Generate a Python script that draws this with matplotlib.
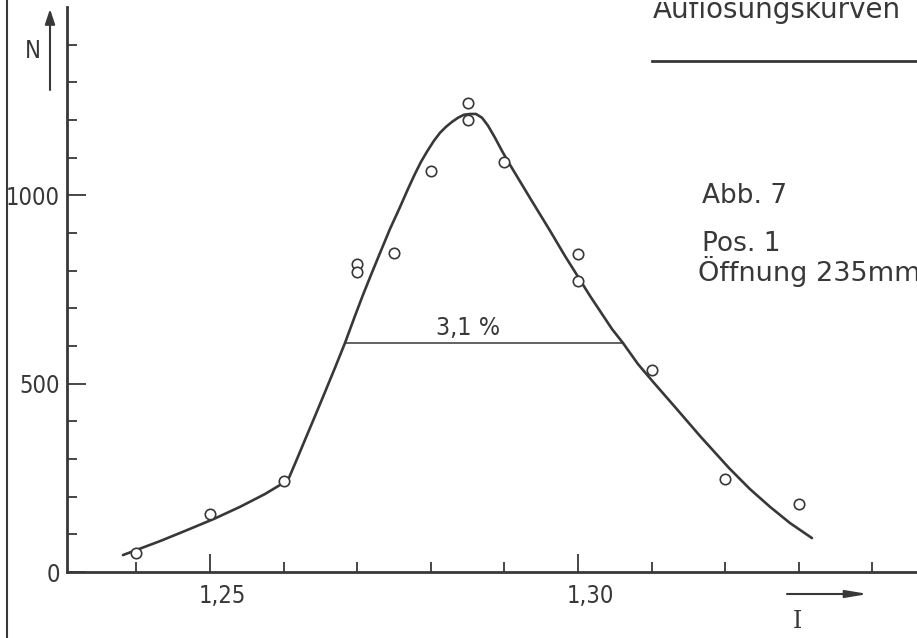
"""Auflösungskurve: counts N against current I, Pos. 1, Öffnung 235 mm."""

import matplotlib

matplotlib.use("Agg")
import matplotlib.pyplot as plt  # noqa: E402
from matplotlib.lines import Line2D  # noqa: E402
from matplotlib.ticker import FixedLocator  # noqa: E402
from matplotlib.transforms import Bbox, ScaledTranslation, TransformedBbox  # noqa: E402

INK = "#383838"

# measured counts
meas_i = [1.240, 1.250, 1.260, 1.270, 1.270, 1.275, 1.280, 1.285, 1.285,
          1.290, 1.300, 1.300, 1.310, 1.320, 1.330]
meas_n = [50, 154, 242, 818, 797, 847, 1065, 1244, 1200,
          1089, 845, 773, 537, 247, 181]

# hand-drawn fit curve through the measurements
fit_i = [1.23818, 1.24035, 1.24321, 1.24660, 1.25054, 1.25408, 1.25747,
         1.25951, 1.26073, 1.26182, 1.26291, 1.26427, 1.26563, 1.26698,
         1.26834, 1.26970, 1.27079, 1.27188, 1.27310, 1.27446, 1.27582,
         1.27690, 1.27785, 1.27867, 1.27948, 1.28043, 1.28125, 1.28207,
         1.28288, 1.28370, 1.28451, 1.28533, 1.28614, 1.28696, 1.28777,
         1.28872, 1.28967, 1.29076, 1.29348, 1.29620, 1.29823, 1.30000,
         1.30163, 1.30299, 1.30462, 1.30611, 1.30815, 1.31019, 1.31318,
         1.31658, 1.32052, 1.32337, 1.32609, 1.32880, 1.33179]
fit_n = [45, 61, 82, 109, 141, 173, 207,
         231, 250, 300, 351, 414, 478, 542,
         608, 680, 736, 789, 847, 911, 969,
         1017, 1057, 1089, 1116, 1145, 1166, 1182,
         1195, 1206, 1214, 1216, 1216, 1206, 1185,
         1153, 1118, 1081, 993, 906, 839, 784,
         733, 693, 645, 608, 552, 505, 438,
         361, 276, 220, 173, 130, 90]

# half-width marker
half_n = 608
half_i = [1.26834, 1.30611]
half_label = "3,1 %"

y_major = [0, 500, 1000]
y_minor = [100, 200, 300, 400, 600, 700, 800, 900, 1100, 1200, 1300, 1400]
x_major = [1.25, 1.30]
x_major_labels = ["1,25", "1,30"]
x_minor = [1.24, 1.26, 1.27, 1.28, 1.29, 1.31, 1.32, 1.33, 1.34]

W, H = 917, 638


def px(x, y):
    """Pixel position (from top-left) -> figure fraction."""
    return x / W, 1 - y / H


fig = plt.figure(figsize=(W / 100, H / 100), dpi=100)
fig.patch.set_facecolor("white")
ax = fig.add_axes([67 / W, (H - 572) / H, (W - 67) / W, 565 / H])
ax.set_facecolor("none")

ax.plot(fit_i, fit_n, color=INK, lw=1.9, solid_capstyle="round",
        solid_joinstyle="round", zorder=3)
ax.plot(meas_i, meas_n, ls="none", marker="o", ms=7.5, mfc="white",
        mec=INK, mew=1.2, zorder=4)
ax.plot(half_i, [half_n, half_n], color=INK, lw=1.1, zorder=2)
ax.text(1.2851, half_n + 40, half_label, ha="center", va="center",
        fontsize=18, color=INK, fontstretch="condensed")

ax.set_xlim(1.23057, 1.34606)
ax.set_ylim(0, 1500)

for side in ("top", "right"):
    ax.spines[side].set_visible(False)
for side in ("left", "bottom"):
    ax.spines[side].set_color(INK)
    ax.spines[side].set_linewidth(2.0)

ax.yaxis.set_major_locator(FixedLocator(y_major))
ax.yaxis.set_minor_locator(FixedLocator(y_minor))
ax.xaxis.set_major_locator(FixedLocator(x_major))
ax.xaxis.set_minor_locator(FixedLocator(x_minor))
ax.set_xticklabels(x_major_labels)
ax.set_yticklabels([str(v) for v in y_major])

ax.tick_params(which="both", direction="in", color=INK, width=1.3,
               labelcolor=INK)
ax.tick_params(axis="y", which="major", length=14, pad=5, labelsize=17)
ax.tick_params(axis="y", which="minor", length=7)
ax.tick_params(axis="x", which="major", length=13, pad=9, labelsize=17)
ax.tick_params(axis="x", which="minor", length=7)
# the hand-lettered I labels sit a little right of their ticks
shift = ScaledTranslation(0.12, 0, fig.dpi_scale_trans)
for lab in ax.get_xticklabels():
    lab.set_transform(lab.get_transform() + shift)
for lab in ax.get_xticklabels() + ax.get_yticklabels():
    lab.set_fontstretch("condensed")

# axis names with their direction arrows
fig.text(*px(33, 51), "N", ha="center", va="center", fontsize=17,
         color=INK, fontstretch="condensed")
ax.annotate("", xy=px(50, 9), xytext=px(50, 90), xycoords="figure fraction",
            textcoords="figure fraction",
            arrowprops=dict(arrowstyle="-|>,head_length=0.9,head_width=0.3",
                            color=INK, lw=1.5, shrinkA=0, shrinkB=0))
fig.text(*px(797, 622), "I", ha="center", va="center", fontsize=17,
         color=INK, family="DejaVu Serif")
ax.annotate("", xy=px(868, 594), xytext=px(787, 594), xycoords="figure fraction",
            textcoords="figure fraction",
            arrowprops=dict(arrowstyle="-|>,head_length=1.3,head_width=0.22",
                            color=INK, lw=1.5, shrinkA=0, shrinkB=0))

# heading block, upper right; the sheet is trimmed just above the heading
head = fig.text(*px(653, 18), "Auflösungskurven", ha="left", va="baseline",
                fontsize=20, color=INK)
head.set_clip_box(TransformedBbox(Bbox([[0, 0], [1, 1 - 2 / H]]),
                                  fig.transFigure))
head.set_clip_on(True)
fig.add_artist(Line2D([652 / W, 1], [1 - 61 / H, 1 - 61 / H], color=INK,
                      lw=2.0, transform=fig.transFigure))
fig.text(*px(702, 203), "Abb. 7", ha="left", va="baseline", fontsize=19,
         color=INK)
fig.text(*px(702, 251), "Pos. 1", ha="left", va="baseline", fontsize=19,
         color=INK)
fig.text(*px(698, 281), "Öffnung 235mm", ha="left", va="baseline",
         fontsize=19.5, color=INK)

# frame line at the left edge of the sheet
fig.add_artist(Line2D([7 / W, 7 / W], [0, 1], color=INK, lw=1.5,
                      transform=fig.transFigure))

fig.savefig("out.png", dpi=100, facecolor="white")
plt.close(fig)
